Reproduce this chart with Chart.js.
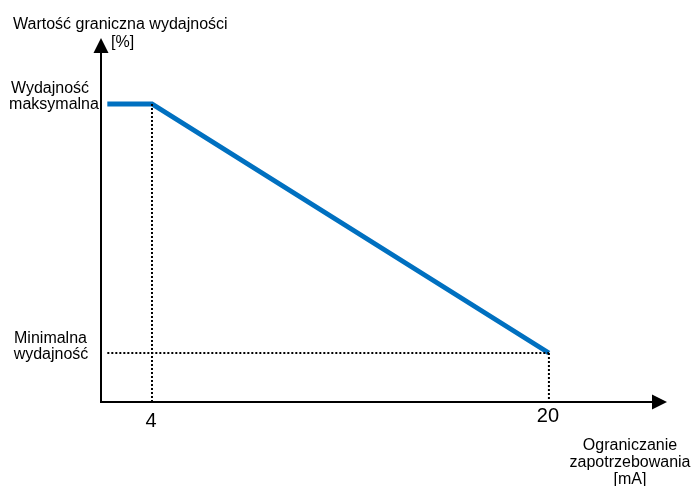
<!DOCTYPE html>
<html>
<head>
<meta charset="utf-8">
<script src="https://cdn.jsdelivr.net/npm/chart.js@4"></script>
<style>
  html, body { margin: 0; padding: 0; background: #ffffff; }
  #wrap { width: 692px; height: 486px; }
</style>
</head>
<body>
<div id="wrap"><canvas id="c" width="692" height="486"></canvas></div>
<script>
// ---- data ----
const xValues = [2.2, 4, 20];          // demand limit [mA]
const yValues = [100, 100, 20];        // capacity limit [%] (max level = 100, min level = 20)
const xTickValues = [4, 20];
const xTickLabels = ["4", "20"];
const yTickValues = [100, 20];
const yTickLabels = [["Wydajność", "maksymalna"], ["Minimalna", "wydajność"]];
const yAxisTitle = ["Wartość graniczna wydajności", "[%]"];
const xAxisTitle = ["Ograniczanie", "zapotrzebowania", "[mA]"];
const xRange = [1.945, 24.76];
const yRange = [4.26, 121.2];

const FONT = "'Liberation Sans', Arial, sans-serif";

const mainLine = xValues.map((x, i) => ({ x: x, y: yValues[i] }));
const guideV1 = [{ x: xTickValues[0], y: yValues[0] }, { x: xTickValues[0], y: yRange[0] }];
const guideV2 = [{ x: xTickValues[1], y: yTickValues[1] }, { x: xTickValues[1], y: yRange[0] }];
const guideH = [{ x: xValues[0], y: yTickValues[1] }, { x: xTickValues[1], y: yTickValues[1] }];

const guideStyle = {
  borderColor: '#000000', borderWidth: 2, borderDash: [2, 2],
  pointRadius: 0, fill: false, tension: 0, borderCapStyle: 'butt'
};

const axesPlugin = {
  id: 'axesPlugin',
  afterDraw(chart) {
    const ctx = chart.ctx;
    const xs = chart.scales.x, ys = chart.scales.y;
    const ca = chart.chartArea;
    const x0 = ca.left, y0 = ca.bottom;
    ctx.save();
    ctx.strokeStyle = '#000'; ctx.fillStyle = '#000';
    ctx.lineWidth = 2;
    // y axis
    ctx.beginPath(); ctx.moveTo(x0, y0 + 1); ctx.lineTo(x0, ca.top + 12); ctx.stroke();
    ctx.beginPath(); ctx.moveTo(x0, ca.top); ctx.lineTo(x0 - 7.5, ca.top + 15); ctx.lineTo(x0 + 7.5, ca.top + 15); ctx.closePath(); ctx.fill();
    // x axis
    ctx.beginPath(); ctx.moveTo(x0 - 1, y0); ctx.lineTo(ca.right - 12, y0); ctx.stroke();
    ctx.beginPath(); ctx.moveTo(ca.right, y0); ctx.lineTo(ca.right - 15, y0 - 7.5); ctx.lineTo(ca.right - 15, y0 + 7.5); ctx.closePath(); ctx.fill();

    ctx.textBaseline = 'alphabetic';
    // x tick labels
    ctx.font = '20px ' + FONT;
    ctx.textAlign = 'center';
    xTickValues.forEach((v, i) => {
      ctx.fillText(xTickLabels[i], xs.getPixelForValue(v) - 1, y0 + (i === 0 ? 25 : 20));
    });
    // y tick labels
    ctx.font = '16px ' + FONT;
    const centers = [[50, 54], [50.5, 51]];
    const offs = [[-11, 5.5], [-10, 6]];
    yTickValues.forEach((v, i) => {
      const py = ys.getPixelForValue(v);
      const lines = yTickLabels[i];
      ctx.fillText(lines[0], centers[i][0], py + offs[i][0]);
      ctx.fillText(lines[1], centers[i][1], py + offs[i][1]);
    });
    // y axis title
    ctx.textAlign = 'left';
    ctx.fillText(yAxisTitle[0], 13, 29);
    ctx.fillText(yAxisTitle[1], 111, 47);
    // x axis title
    ctx.textAlign = 'center';
    ctx.fillText(xAxisTitle[0], 630, 450);
    ctx.fillText(xAxisTitle[1], 630, 467);
    ctx.fillText(xAxisTitle[2], 630, 484);
    ctx.restore();
  }
};

new Chart(document.getElementById('c'), {
  type: 'line',
  data: {
    datasets: [
      Object.assign({ data: guideV1 }, guideStyle),
      Object.assign({ data: guideV2 }, guideStyle),
      Object.assign({ data: guideH }, guideStyle),
      { data: mainLine, borderColor: '#0070C0', borderWidth: 5, pointRadius: 0,
        fill: false, tension: 0, borderCapStyle: 'butt', borderJoinStyle: 'miter' }
    ]
  },
  options: {
    responsive: false,
    animation: false,
    layout: { padding: { left: 101, right: 25, top: 38, bottom: 84 } },
    plugins: { legend: { display: false }, tooltip: { enabled: false }, title: { display: false } },
    scales: {
      x: { type: 'linear', min: xRange[0], max: xRange[1], display: false },
      y: { type: 'linear', min: yRange[0], max: yRange[1], display: false }
    }
  },
  plugins: [axesPlugin]
});
</script>
</body>
</html>
